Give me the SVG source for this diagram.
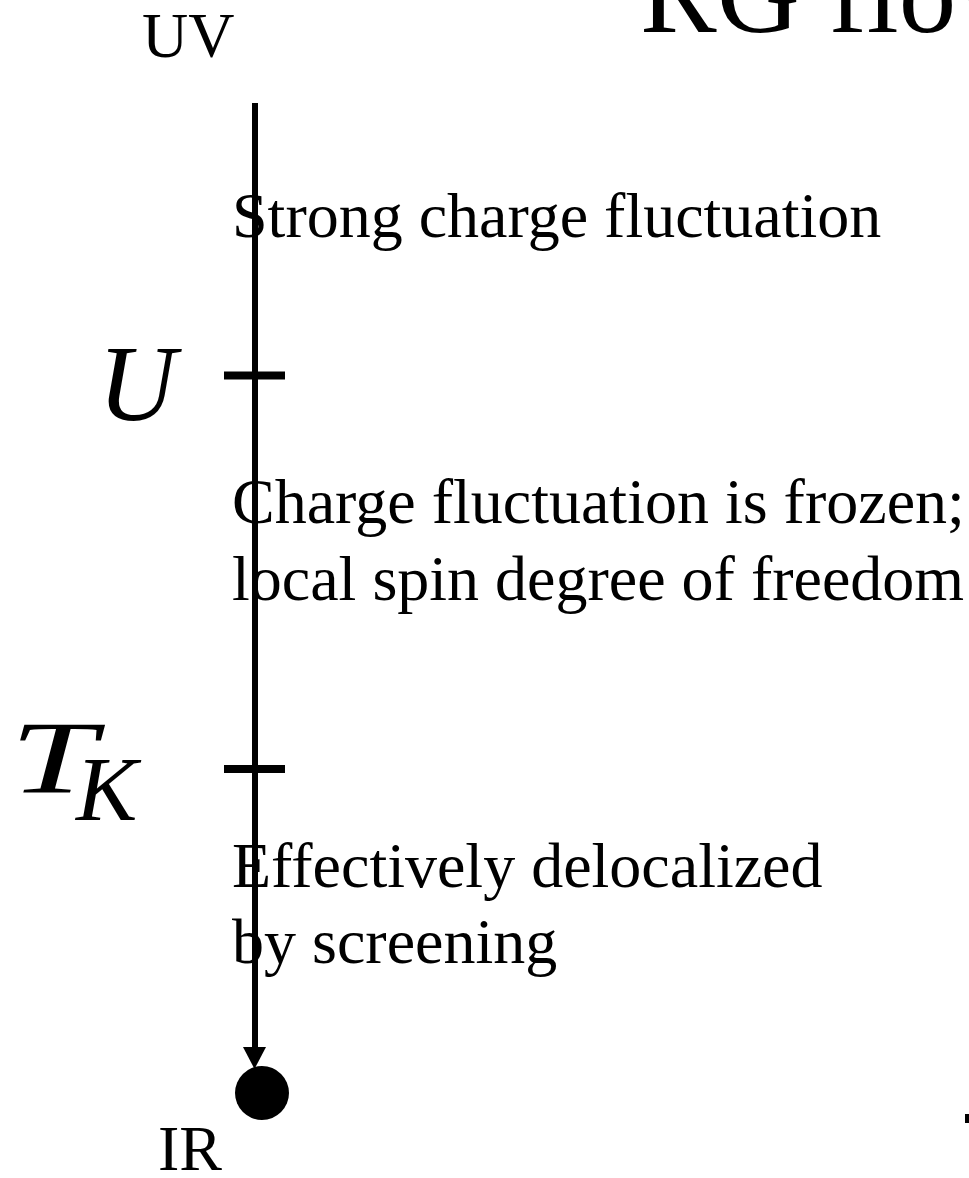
<svg xmlns="http://www.w3.org/2000/svg" width="969" height="1178" viewBox="0 0 969 1178">
<style>
.t{font-family:"Liberation Serif","Times New Roman",serif;font-size:64px;fill:#000}
.m{font-family:"Liberation Serif","Times New Roman",serif;font-style:italic;fill:#000}
.ln{stroke:#000;stroke-width:6;fill:none}
.tk{stroke:#000;stroke-width:8;fill:none}
</style>
<rect width="969" height="1178" fill="#fff"/>
<g id="title"><text x="640" y="32" class="t" style="font-size:115px">RG flow</text></g>
<g id="uv"><text x="142" y="57" class="t">UV</text></g>
<g id="ir"><text x="158" y="1170" class="t">IR</text></g>
<g id="connectors">
<line x1="255" y1="103" x2="255" y2="1050" class="ln"/>
<polygon points="243,1047 266,1047 254.5,1069" fill="#000"/>
</g>
<g id="tick-U">
<line x1="224" y1="375.5" x2="285" y2="375.5" class="tk"/>
<text x="98" y="420" class="m" style="font-size:108px">U</text>
</g>
<g id="tick-TK">
<line x1="224" y1="769" x2="285" y2="769" class="tk"/>
<text x="10" y="793" class="m" style="font-size:104px" textLength="86" lengthAdjust="spacingAndGlyphs">T</text>
<text x="76" y="820" class="m" style="font-size:92px">K</text>
</g>
<g id="region-uv"><text x="232" y="237" class="t">Strong charge fluctuation</text></g>
<g id="region-mid"><text x="232" y="523" class="t">Charge fluctuation is frozen;</text><text x="232" y="600" class="t">local spin degree of freedom</text></g>
<g id="region-ir"><text x="232" y="887" class="t">Effectively delocalized</text><text x="232" y="963" class="t">by screening</text></g>
<g id="ir-point"><circle cx="262" cy="1093" r="27" fill="#000"/></g>
<rect x="965" y="1114" width="4" height="9" fill="#000"/>
</svg>
